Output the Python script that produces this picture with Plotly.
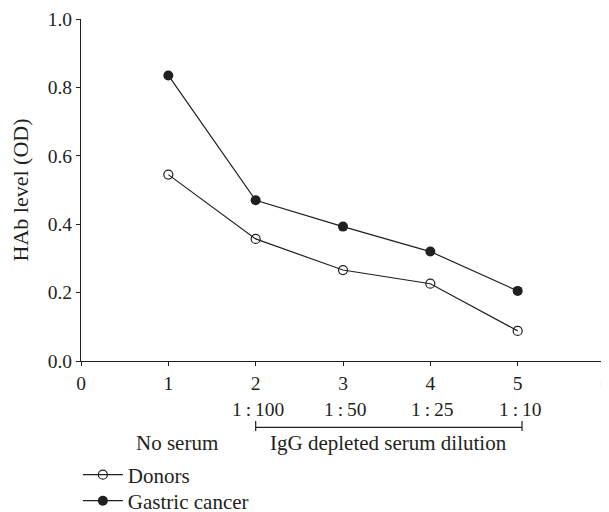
import plotly.graph_objects as go

x_vals = [1, 2, 3, 4, 5]
donors = [0.545, 0.357, 0.266, 0.226, 0.088]
gastric = [0.835, 0.470, 0.393, 0.320, 0.205]
dilution_x = [2, 3, 4, 5]
dilution_labels = ["1\u2009:\u2009100", "1\u2009:\u200950", "1\u2009:\u200925", "1\u2009:\u200910"]
x_ticks = [0, 1, 2, 3, 4, 5, 6]
y_ticks = [0.0, 0.2, 0.4, 0.6, 0.8, 1.0]

ink = "#231f20"
font_family = "Liberation Serif, Times New Roman, serif"
fs = 21
tfs = 19.5

fig = go.Figure()
fig.add_trace(go.Scatter(
    x=x_vals, y=donors, mode="lines+markers", name="Donors", legend="legend",
    line=dict(color=ink, width=1.2),
    marker=dict(symbol="circle-open", size=9, color=ink, line=dict(width=1.2, color=ink)),
))
fig.add_trace(go.Scatter(
    x=x_vals, y=gastric, mode="lines+markers", name="Gastric cancer", legend="legend2",
    line=dict(color=ink, width=1.2),
    marker=dict(symbol="circle", size=10, color=ink),
))

for xv, lab in zip(dilution_x, dilution_labels):
    fig.add_annotation(x=xv, y=-0.1404, xref="x", yref="paper", text=lab,
                       xanchor="center", yanchor="middle", xshift=2,
                       showarrow=False, font=dict(size=tfs, color=ink, family=font_family))

# bracket
fig.add_shape(type="line", xref="x", yref="paper", x0=2, x1=5.05, y0=-0.1939, y1=-0.1939,
              line=dict(color=ink, width=1.2))
for xb in [2, 5.05]:
    fig.add_shape(type="line", xref="x", yref="paper", x0=xb, x1=xb, y0=-0.1754, y1=-0.2047,
                  line=dict(color=ink, width=1.2))

fig.add_annotation(x=1.096, y=-0.2406, xref="x", yref="paper", text="No serum",
                   xanchor="center", yanchor="middle",
                   showarrow=False, font=dict(size=fs, color=ink, family=font_family))
fig.add_annotation(x=3.52, y=-0.2406, xref="x", yref="paper", text="IgG depleted serum dilution",
                   xanchor="center", yanchor="middle",
                   showarrow=False, font=dict(size=fs, color=ink, family=font_family))

legend_style = dict(x=-0.006, xanchor="left", yanchor="middle",
                    font=dict(size=fs, color=ink, family=font_family),
                    bgcolor="rgba(0,0,0,0)", itemwidth=40)

fig.update_layout(
    width=601, height=504,
    margin=dict(l=73, r=4, t=11, b=151, autoexpand=False),
    paper_bgcolor="white", plot_bgcolor="white",
    font=dict(family=font_family, size=fs, color=ink),
    showlegend=True,
    legend=dict(y=-0.3335, **legend_style),
    legend2=dict(y=-0.4095, **legend_style),
    xaxis=dict(range=[0, 6], tickvals=x_ticks, ticktext=[str(t) for t in x_ticks],
               showline=True, linecolor=ink, linewidth=1.2, ticks="outside",
               ticklen=4, tickcolor=ink, tickwidth=1.2, showgrid=False, zeroline=False,
               ticklabeloverflow="allow",
               tickfont=dict(size=tfs, color=ink)),
    yaxis=dict(range=[0, 1.0], tickvals=y_ticks, ticktext=[f"{t:.1f}" for t in y_ticks],
               showline=True, linecolor=ink, linewidth=1.2, ticks="outside",
               ticklen=4, tickcolor=ink, tickwidth=1.2, showgrid=False, zeroline=False,
               tickfont=dict(size=tfs, color=ink),
               title=dict(text="HAb level (OD)", font=dict(size=22, color=ink), standoff=18)),
)

fig.write_html("out.html")
